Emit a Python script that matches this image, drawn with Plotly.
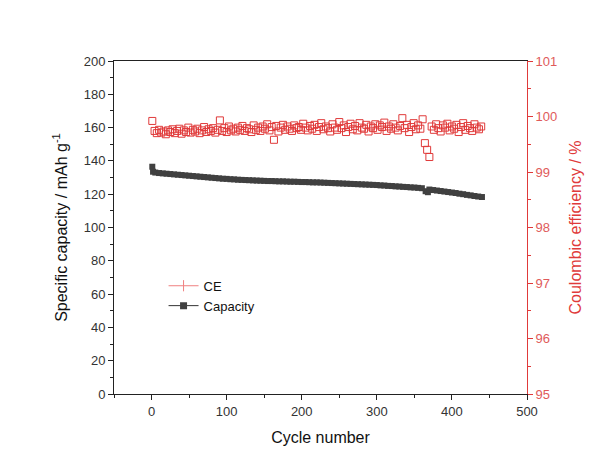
import plotly.graph_objects as go

# Capacity (mAh g-1) vs cycle
cap_cycles = [1, 2, 5, 10, 15, 20, 25, 30, 35, 40, 45, 50, 55, 60, 65, 70, 75, 80, 85, 90, 95,
              100, 105, 110, 115, 120, 125, 130, 135, 140, 145, 150, 155, 160, 165, 170, 175, 180,
              185, 190, 195, 200, 205, 210, 215, 220, 225, 230, 235, 240, 245, 250, 255, 260, 265,
              270, 275, 280, 285, 290, 295, 300, 305, 310, 315, 320, 325, 330, 335, 340, 345, 350,
              355, 360, 365, 368, 370, 375, 380, 385, 390, 395, 400, 405, 410, 415, 420, 425, 430,
              435, 440]
capacity = [136.5, 133.5, 133.0, 132.7, 132.5, 132.3, 132.1, 131.9, 131.7, 131.5, 131.3, 131.1,
            130.9, 130.7, 130.5, 130.3, 130.1, 129.9, 129.7, 129.5, 129.3, 129.2, 129.0, 128.9,
            128.7, 128.6, 128.5, 128.4, 128.3, 128.2, 128.1, 128.0, 127.9, 127.9, 127.8, 127.7,
            127.7, 127.6, 127.5, 127.5, 127.4, 127.3, 127.3, 127.2, 127.1, 127.1, 127.0, 126.9,
            126.8, 126.7, 126.6, 126.5, 126.4, 126.3, 126.2, 126.1, 126.0, 125.9, 125.8, 125.7,
            125.6, 125.5, 125.3, 125.2, 125.0, 124.9, 124.7, 124.6, 124.4, 124.3, 124.1, 124.0,
            123.8, 123.6, 121.8, 121.2, 122.8, 122.5, 122.2, 121.9, 121.6, 121.3, 121.0, 120.7,
            120.3, 120.0, 119.6, 119.3, 118.9, 118.6, 118.3]

# Coulombic efficiency (%), every 3rd cycle from 1
ce_cycles = list(range(1, 440, 3))
ce = [99.92, 99.74, 99.70, 99.76, 99.71, 99.73, 99.68, 99.75, 99.72, 99.77,
      99.70, 99.74, 99.78, 99.69, 99.75, 99.72, 99.80, 99.71, 99.76, 99.73,
      99.78, 99.70, 99.75, 99.81, 99.72, 99.77, 99.74, 99.79, 99.71, 99.76,
      99.93, 99.74, 99.79, 99.72, 99.82, 99.75, 99.78, 99.73, 99.80, 99.76,
      99.83, 99.74, 99.79, 99.77, 99.72, 99.84, 99.76, 99.80, 99.74, 99.82,
      99.78, 99.86, 99.75, 99.81, 99.58, 99.83, 99.73, 99.80, 99.85, 99.76,
      99.82, 99.78, 99.74, 99.84, 99.79, 99.81, 99.76, 99.87, 99.80, 99.75,
      99.83, 99.78, 99.85, 99.74, 99.81, 99.88, 99.77, 99.82, 99.79, 99.73,
      99.86, 99.80, 99.76, 99.90, 99.79, 99.84, 99.72, 99.81, 99.87, 99.77,
      99.83, 99.75, 99.88, 99.80, 99.78, 99.85, 99.73, 99.82, 99.79, 99.86,
      99.76, 99.84, 99.81, 99.89, 99.74, 99.82, 99.78, 99.86, 99.80, 99.75,
      99.83, 99.97, 99.79, 99.85, 99.72, 99.81, 99.88, 99.77, 99.84, 99.78,
      99.95, 99.52, 99.40, 99.27, 99.82, 99.76, 99.86, 99.79, 99.73, 99.84,
      99.80, 99.87, 99.75, 99.82, 99.78, 99.85, 99.72, 99.81, 99.88, 99.76,
      99.83, 99.79, 99.74, 99.86, 99.80, 99.77, 99.82]

RED = "#e03a3a"
FONT = "Liberation Sans, Arial, sans-serif"

fig = go.Figure()

fig.add_trace(go.Scatter(
    x=ce_cycles, y=ce, yaxis="y2", mode="markers", showlegend=False,
    marker=dict(symbol="square-open", size=7, color=RED, line=dict(width=1, color=RED)),
))
fig.add_trace(go.Scatter(
    x=cap_cycles, y=capacity, mode="markers", showlegend=False,
    marker=dict(symbol="square", size=6, color="#404040"),
))
# legend entries
fig.add_trace(go.Scatter(
    x=[None], y=[None], yaxis="y2", mode="lines+markers", name="CE",
    line=dict(color="#f08080", width=1),
    marker=dict(symbol="line-ns-open", size=8, color="#f08080", line=dict(width=1, color="#f08080")),
))
fig.add_trace(go.Scatter(
    x=[None], y=[None], mode="lines+markers", name="Capacity",
    line=dict(color="#333333", width=1),
    marker=dict(symbol="square", size=7, color="#404040"),
))

fig.update_layout(
    width=595, height=456,
    margin=dict(l=106, r=76, t=53, b=70),
    paper_bgcolor="white", plot_bgcolor="white",
    font=dict(family=FONT, size=13, color="#333333"),
    xaxis=dict(
        range=[-50, 500], tickvals=[0, 100, 200, 300, 400, 500],
        showline=True, linecolor="#222222", linewidth=1, mirror=True,
        ticks="outside", ticklen=5, tickcolor="#222222",
        minor=dict(ticks="outside", ticklen=3, dtick=50, tickcolor="#222222"),
        showgrid=False, zeroline=False, automargin=False,
        title=dict(text="Cycle number", font=dict(size=16, color="#111111"), standoff=14),
        tickfont=dict(size=13, color="#333333"),
    ),
    yaxis=dict(
        range=[0, 200], dtick=20,
        showline=True, linecolor="#222222", linewidth=1,
        ticks="outside", ticklen=5, tickcolor="#222222",
        minor=dict(ticks="outside", ticklen=3, dtick=10, tickcolor="#222222"),
        showgrid=False, zeroline=False, automargin=False,
        title=dict(text="Specific capacity / mAh g<sup>-1</sup>", font=dict(size=16, color="#111111"), standoff=12),
        tickfont=dict(size=13, color="#333333"),
    ),
    yaxis2=dict(
        range=[95, 101], dtick=1, overlaying="y", side="right",
        showline=True, linecolor=RED, linewidth=1,
        ticks="outside", ticklen=5, tickcolor=RED,
        minor=dict(ticks="outside", ticklen=3, dtick=0.5, tickcolor=RED),
        showgrid=False, zeroline=False, automargin=False,
        title=dict(text="Coulombic efficiency / %", font=dict(size=16, color=RED), standoff=13),
        tickfont=dict(size=13, color="#e05a5a"),
    ),
    legend=dict(
        x=0.12, y=0.37, xanchor="left", yanchor="top",
        bgcolor="rgba(0,0,0,0)", font=dict(size=13, color="#111111"),
        tracegroupgap=0, itemwidth=30,
    ),
)

fig.write_html("out.html")
